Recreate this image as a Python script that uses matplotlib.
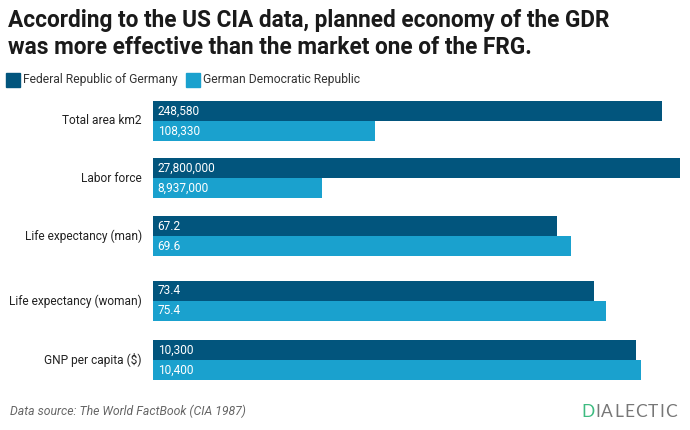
import matplotlib.pyplot as plt
from matplotlib.patches import Rectangle

plt.rcParams['font.family'] = ['Roboto', 'DejaVu Sans']

CATEGORIES = ["Total area km2", "Labor force", "Life expectancy (man)",
              "Life expectancy (woman)", "GNP per capita ($)"]
FRG = [248580, 27800000, 67.2, 73.4, 10300]
GDR = [108330, 8937000, 69.6, 75.4, 10400]
# each row has its own scale in the original chart (value at the right edge)
ROW_MAX = [257400, 27800000, 87.7, 87.7, 11240]
SERIES = ["Federal Republic of Germany", "German Democratic Republic"]
COLORS = ["#02557d", "#1aa1ce"]

W, H = 690, 430
fig = plt.figure(figsize=(W / 100, H / 100), dpi=100)

# row tops in pixels
row_tops = [101, 158, 216, 281, 340]
bar_h = 20
x0, x1 = 153, 680


def fmt(v):
    return f"{v:,.0f}" if v >= 1000 else f"{v:g}"


for top, cat, a, b, mx in zip(row_tops, CATEGORIES, FRG, GDR, ROW_MAX):
    ax = fig.add_axes([x0 / W, 1 - (top + 2 * bar_h) / H, (x1 - x0) / W, 2 * bar_h / H])
    ax.barh([1, 0], [a, b], height=1.0, color=COLORS, align='edge')
    ax.set_xlim(0, mx)
    ax.set_ylim(0, 2)
    ax.axis('off')
    for y, v in zip([1, 0], [a, b]):
        ax.text(mx * 0.009, y + 0.5, fmt(v), color='white', fontsize=8.6,
                va='center', ha='left')
    fig.text(142 / W, 1 - (top + bar_h) / H, cat, ha='right', va='center',
             fontsize=8.6, color='#222222')

# title
fig.text(8 / W, 1 - 20 / H, "According to the US CIA data, planned economy of the GDR",
         fontsize=16.3, fontweight='bold', color='#1a1a1a', va='center')
fig.text(8 / W, 1 - 48 / H, "was more effective than the market one of the FRG.",
         fontsize=16.3, fontweight='bold', color='#1a1a1a', va='center')

# legend
lx = [6, 186]
for x, name, c in zip(lx, SERIES, COLORS):
    fig.patches.append(Rectangle((x / W, 1 - 87 / H), 14 / W, 14 / H,
                                 transform=fig.transFigure, color=c))
    fig.text((x + 17) / W, 1 - 80 / H, name, fontsize=8.7, color='#333333', va='center')

# footer
fig.text(10 / W, 1 - 411 / H, "Data source: The World FactBook (CIA 1987)",
         fontsize=8.8, style='italic', color='#666666', va='center')

renderer = fig.canvas.get_renderer()
x = 581
for i, ch in enumerate("DIALECTIC"):
    t = fig.text(x / W, 1 - 412 / H, ch, fontsize=12.5, va='center', family='Lato',
                 color='#3dbb80' if i == 0 else '#777777')
    x += t.get_window_extent(renderer).width + 1.1

fig.savefig("out.png", dpi=100)
